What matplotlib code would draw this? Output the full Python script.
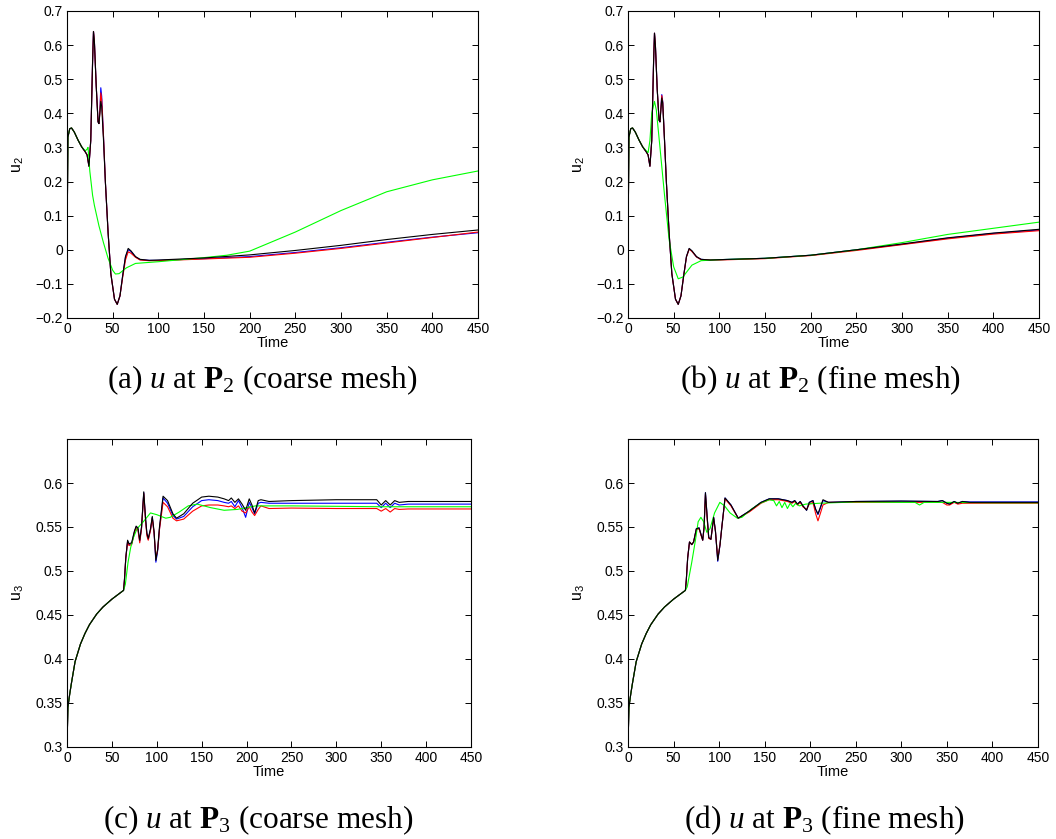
import numpy as np
import matplotlib
matplotlib.use("Agg")
from matplotlib import pyplot as plt
from matplotlib.ticker import FuncFormatter

plt.rcParams['font.family'] = ['Liberation Sans', 'DejaVu Sans']
plt.rcParams['mathtext.fontset'] = 'custom'
plt.rcParams['mathtext.rm'] = 'Liberation Serif'
plt.rcParams['mathtext.it'] = 'Liberation Serif:italic'
plt.rcParams['mathtext.bf'] = 'Liberation Serif:bold'
plt.rcParams['mathtext.sf'] = 'Liberation Sans'

# ---- panel (a): u at P2, coarse mesh ----
t_a = [0, 1, 3, 5, 8, 12, 16, 20, 22, 24, 26, 28, 29, 30, 32, 34, 35, 36, 37, 38, 40, 42, 45, 48,
       52, 55, 58, 61, 64, 67, 70, 75, 80, 90, 100, 150, 200, 250, 300, 350, 400, 450]
a_black = [0.0, 0.33, 0.355, 0.357, 0.345, 0.322, 0.302, 0.287, 0.278, 0.245, 0.32, 0.55, 0.64, 0.61,
           0.48, 0.375, 0.37, 0.40, 0.435, 0.42, 0.32, 0.2, 0.05, -0.07, -0.145, -0.16, -0.135, -0.075,
           -0.02, 0.004, -0.003, -0.02, -0.028, -0.031, -0.03, -0.024, -0.015, -0.002, 0.013, 0.03,
           0.045, 0.058]
a_blue = [0.0, 0.33, 0.355, 0.357, 0.345, 0.322, 0.302, 0.287, 0.278, 0.245, 0.32, 0.55, 0.64, 0.61,
          0.48, 0.375, 0.37, 0.41, 0.475, 0.45, 0.33, 0.2, 0.05, -0.07, -0.145, -0.16, -0.135, -0.075,
          -0.022, 0.0, -0.005, -0.021, -0.029, -0.031, -0.031, -0.026, -0.02, -0.008, 0.006, 0.022,
          0.037, 0.05]
a_red = [0.0, 0.33, 0.355, 0.357, 0.345, 0.322, 0.302, 0.287, 0.278, 0.245, 0.32, 0.55, 0.64, 0.61,
         0.48, 0.375, 0.37, 0.405, 0.46, 0.44, 0.33, 0.2, 0.05, -0.07, -0.145, -0.16, -0.135, -0.08,
         -0.03, -0.006, -0.01, -0.022, -0.03, -0.032, -0.032, -0.027, -0.022, -0.01, 0.004, 0.02,
         0.036, 0.052]
t_a_green = [0, 1, 3, 5, 8, 12, 16, 20, 22, 23, 25, 28, 30, 35, 40, 45, 50, 53, 57, 65, 75, 100, 150,
             175, 200, 250, 300, 350, 400, 450]
a_green = [0.0, 0.33, 0.355, 0.357, 0.345, 0.322, 0.302, 0.29, 0.295, 0.30, 0.23, 0.16, 0.13, 0.07,
           0.02, -0.025, -0.06, -0.071, -0.07, -0.053, -0.04, -0.035, -0.023, -0.016, -0.004, 0.052,
           0.115, 0.17, 0.205, 0.231]

# ---- panel (b): u at P2, fine mesh ----
t_b = t_a
b_black = [0.0, 0.33, 0.355, 0.357, 0.345, 0.322, 0.302, 0.287, 0.278, 0.245, 0.32, 0.55, 0.635, 0.60,
           0.47, 0.38, 0.375, 0.41, 0.445, 0.43, 0.32, 0.2, 0.05, -0.07, -0.145, -0.16, -0.135, -0.075,
           -0.02, 0.004, -0.003, -0.02, -0.028, -0.03, -0.029, -0.025, -0.016, 0.0, 0.017, 0.035,
           0.049, 0.06]
b_blue = [0.0, 0.33, 0.355, 0.357, 0.345, 0.322, 0.302, 0.287, 0.278, 0.245, 0.32, 0.55, 0.635, 0.60,
          0.47, 0.38, 0.375, 0.415, 0.455, 0.435, 0.32, 0.2, 0.05, -0.07, -0.145, -0.16, -0.135, -0.075,
          -0.02, 0.003, -0.004, -0.021, -0.028, -0.03, -0.029, -0.025, -0.016, 0.0, 0.016, 0.034,
          0.048, 0.058]
b_red = [0.0, 0.33, 0.355, 0.357, 0.345, 0.322, 0.302, 0.287, 0.278, 0.245, 0.32, 0.55, 0.635, 0.60,
         0.47, 0.38, 0.375, 0.413, 0.452, 0.433, 0.32, 0.2, 0.05, -0.07, -0.145, -0.16, -0.135, -0.076,
         -0.021, 0.002, -0.005, -0.021, -0.029, -0.03, -0.03, -0.026, -0.017, -0.002, 0.015, 0.032,
         0.046, 0.056]
t_b_green = [0, 1, 3, 5, 8, 12, 16, 20, 22, 24, 26, 29, 31, 35, 40, 45, 50, 55, 60, 70, 80, 100, 150,
             200, 250, 300, 350, 400, 450]
b_green = [0.0, 0.33, 0.355, 0.357, 0.345, 0.322, 0.302, 0.29, 0.285, 0.32, 0.40, 0.435, 0.41, 0.3,
           0.16, 0.03, -0.05, -0.085, -0.08, -0.045, -0.032, -0.029, -0.025, -0.016, 0.0, 0.021,
           0.045, 0.063, 0.081]

# ---- panel (c): u at P3, coarse mesh ----
t_c = [0, 1, 3, 5, 9, 15, 20, 25, 33, 40, 50, 63, 64, 65.5, 67.5, 69, 72, 75, 77, 79, 81, 83, 85.5,
       87.5, 89, 90.5, 93, 95, 97, 99, 101, 103, 107, 112, 118, 122, 130, 140, 150, 158, 168, 175, 180,
       183, 187, 191, 195, 199, 203, 206, 209, 213, 216, 225, 250, 300, 340, 345, 350, 355, 360, 365,
       370, 380, 400, 450]
c_black = [0.30, 0.345, 0.36, 0.373, 0.397, 0.417, 0.429, 0.439, 0.451, 0.459, 0.468, 0.478, 0.49,
           0.515, 0.535, 0.531, 0.532, 0.545, 0.551, 0.549, 0.535, 0.55, 0.59, 0.56, 0.543, 0.537,
           0.548, 0.562, 0.545, 0.512, 0.525, 0.55, 0.585, 0.58, 0.565, 0.56, 0.565, 0.577, 0.584,
           0.585, 0.584, 0.582, 0.58, 0.583, 0.578, 0.582, 0.576, 0.569, 0.582, 0.575, 0.566, 0.58,
           0.581, 0.579, 0.58, 0.581, 0.581, 0.581, 0.575, 0.58, 0.575, 0.58, 0.578, 0.579, 0.579,
           0.579]
c_blue = [0.30, 0.345, 0.36, 0.373, 0.397, 0.417, 0.429, 0.439, 0.451, 0.459, 0.468, 0.478, 0.49,
          0.515, 0.534, 0.53, 0.531, 0.544, 0.55, 0.548, 0.534, 0.549, 0.589, 0.559, 0.542, 0.536,
          0.547, 0.561, 0.543, 0.51, 0.523, 0.548, 0.583, 0.577, 0.563, 0.559, 0.562, 0.573, 0.58,
          0.581, 0.58, 0.578, 0.577, 0.579, 0.573, 0.58, 0.572, 0.561, 0.578, 0.572, 0.565, 0.577,
          0.578, 0.577, 0.577, 0.577, 0.577, 0.577, 0.572, 0.577, 0.572, 0.577, 0.575, 0.576, 0.576,
          0.576]
c_red = [0.30, 0.345, 0.36, 0.373, 0.397, 0.417, 0.429, 0.439, 0.451, 0.459, 0.468, 0.478, 0.49,
         0.515, 0.533, 0.529, 0.53, 0.543, 0.549, 0.547, 0.532, 0.548, 0.588, 0.557, 0.54, 0.535,
         0.546, 0.56, 0.543, 0.515, 0.524, 0.547, 0.578, 0.573, 0.56, 0.557, 0.559, 0.568, 0.574,
         0.575, 0.575, 0.574, 0.573, 0.574, 0.571, 0.574, 0.568, 0.566, 0.573, 0.567, 0.563, 0.57,
         0.574, 0.571, 0.5715, 0.571, 0.571, 0.571, 0.568, 0.571, 0.567, 0.571, 0.57, 0.5705, 0.5705,
         0.5705]
t_c_green = [0, 1, 3, 5, 9, 15, 20, 25, 33, 40, 50, 63, 65, 68, 71, 74, 78, 85, 93, 100, 110, 115, 125,
             135, 145, 160, 175, 190, 210, 250, 300, 350, 400, 450]
c_green = [0.30, 0.345, 0.36, 0.373, 0.397, 0.417, 0.429, 0.439, 0.451, 0.459, 0.468, 0.478, 0.485,
           0.51, 0.527, 0.538, 0.548, 0.556, 0.566, 0.564, 0.56, 0.561, 0.567, 0.574, 0.576, 0.572,
           0.569, 0.57, 0.574, 0.574, 0.5735, 0.573, 0.573, 0.573]

# ---- panel (d): u at P3, fine mesh ----
t_d = [0, 1, 3, 5, 9, 15, 20, 25, 33, 40, 50, 63, 64, 65.5, 67.5, 70, 72, 75, 78, 80, 82, 83.5, 85,
       87, 88.6, 91, 94, 96, 98.5, 101, 103, 106.5, 113, 121, 133, 146, 155, 165, 175, 180, 183, 186,
       189, 192, 196, 199, 203, 206, 208.5, 211, 214, 220, 250, 300, 340, 345, 350, 353, 358, 362,
       367, 375, 400, 450]
d_black = [0.30, 0.345, 0.36, 0.373, 0.397, 0.417, 0.429, 0.439, 0.451, 0.459, 0.468, 0.478, 0.49,
           0.515, 0.533, 0.53, 0.533, 0.548, 0.549, 0.542, 0.535, 0.55, 0.589, 0.56, 0.538, 0.536,
           0.561, 0.545, 0.512, 0.53, 0.55, 0.583, 0.575, 0.56, 0.568, 0.578, 0.582, 0.582, 0.58,
           0.578, 0.58, 0.576, 0.579, 0.574, 0.569, 0.578, 0.58, 0.57, 0.565, 0.572, 0.581, 0.578,
           0.579, 0.5795, 0.579, 0.58, 0.577, 0.576, 0.579, 0.577, 0.579, 0.578, 0.578, 0.578]
d_blue = [0.30, 0.345, 0.36, 0.373, 0.397, 0.417, 0.429, 0.439, 0.451, 0.459, 0.468, 0.478, 0.49,
          0.515, 0.533, 0.53, 0.533, 0.548, 0.549, 0.542, 0.535, 0.55, 0.589, 0.56, 0.538, 0.536,
          0.561, 0.545, 0.511, 0.53, 0.55, 0.583, 0.575, 0.56, 0.568, 0.578, 0.582, 0.582, 0.58,
          0.578, 0.58, 0.576, 0.579, 0.574, 0.569, 0.578, 0.58, 0.57, 0.564, 0.571, 0.58, 0.578,
          0.579, 0.5793, 0.579, 0.58, 0.577, 0.576, 0.579, 0.577, 0.579, 0.5785, 0.5785, 0.5785]
d_red = [0.30, 0.345, 0.36, 0.373, 0.397, 0.417, 0.429, 0.439, 0.451, 0.459, 0.468, 0.478, 0.49,
         0.515, 0.533, 0.53, 0.533, 0.547, 0.548, 0.541, 0.535, 0.549, 0.587, 0.558, 0.537, 0.536,
         0.56, 0.545, 0.514, 0.53, 0.55, 0.582, 0.574, 0.56, 0.567, 0.577, 0.581, 0.581, 0.579,
         0.577, 0.579, 0.575, 0.578, 0.573, 0.57, 0.576, 0.578, 0.565, 0.557, 0.565, 0.575, 0.578,
         0.578, 0.578, 0.578, 0.578, 0.575, 0.575, 0.578, 0.576, 0.577, 0.577, 0.577, 0.577]
t_d_green = [0, 1, 3, 5, 9, 15, 20, 25, 33, 40, 50, 63, 65, 70, 74, 77, 80, 83, 86.5, 90, 95, 100.8,
             106, 112, 120, 125, 135, 145, 155, 160, 163, 166, 169, 172, 175, 178, 181, 184, 188, 195,
             210, 250, 300, 315, 320, 325, 350, 400, 450]
d_green = [0.30, 0.345, 0.36, 0.373, 0.397, 0.417, 0.429, 0.439, 0.451, 0.459, 0.468, 0.478, 0.482,
           0.51, 0.535, 0.556, 0.561, 0.556, 0.544, 0.548, 0.566, 0.578, 0.574, 0.566, 0.56, 0.561,
           0.57, 0.577, 0.581, 0.58, 0.574, 0.579, 0.572, 0.578, 0.571, 0.577, 0.573, 0.577, 0.574,
           0.576, 0.577, 0.5785, 0.578, 0.578, 0.575, 0.578, 0.578, 0.5775, 0.5775]

captions = [r"(a) $u$ at $\mathbf{P}_2$ (coarse mesh)",
            r"(b) $u$ at $\mathbf{P}_2$ (fine mesh)",
            r"(c) $u$ at $\mathbf{P}_3$ (coarse mesh)",
            r"(d) $u$ at $\mathbf{P}_3$ (fine mesh)"]

W, H = 1056, 839
fig = plt.figure(figsize=(W / 100, H / 100), dpi=100)


def px_axes(x0, x1, y0, y1):
    # pixel box (top-left origin) -> figure fraction
    return fig.add_axes([x0 / W, 1 - y1 / H, (x1 - x0) / W, (y1 - y0) / H])


def fmt(v, pos):
    s = "%g" % round(v, 3)
    return s.replace("-", "\u2212")


def style(ax, ylab, ylim, yticks):
    ax.set_xlim(0, 450)
    ax.set_ylim(*ylim)
    ax.set_xticks(np.arange(0, 451, 50))
    ax.set_yticks(yticks)
    ax.yaxis.set_major_formatter(FuncFormatter(fmt))
    ax.tick_params(direction='in', top=True, right=True, length=4, width=0.7,
                   labelsize=10, pad=3)
    for sp in ax.spines.values():
        sp.set_linewidth(0.8)
    ax.set_xlabel("Time", fontsize=10.5, labelpad=0)
    ax.set_ylabel(ylab, fontsize=11.5, labelpad=7)


lw = 0.8
panels = [
    ((67, 478, 11, 318), t_a, a_blue, a_red, t_a_green, a_green, a_black,
     r"u$_\mathsf{2}$", (-0.2, 0.7), np.arange(-0.2, 0.71, 0.1)),
    ((628, 1039, 11, 318), t_b, b_blue, b_red, t_b_green, b_green, b_black,
     r"u$_\mathsf{2}$", (-0.2, 0.7), np.arange(-0.2, 0.71, 0.1)),
    ((67, 471, 439, 747), t_c, c_blue, c_red, t_c_green, c_green, c_black,
     r"u$_\mathsf{3}$", (0.3, 0.65), np.arange(0.3, 0.601, 0.05)),
    ((628, 1038, 439, 747), t_d, d_blue, d_red, t_d_green, d_green, d_black,
     r"u$_\mathsf{3}$", (0.3, 0.65), np.arange(0.3, 0.601, 0.05)),
]

for box, t, ub, ur, tg, ug, uk, ylab, ylim, yt in panels:
    ax = px_axes(*box)
    ax.plot(t, ub, color=(0, 0, 1), lw=lw)
    ax.plot(t, ur, color=(1, 0, 0), lw=lw)
    ax.plot(tg, ug, color=(0, 1, 0), lw=lw)
    ax.plot(t, uk, color=(0, 0, 0), lw=lw)
    style(ax, ylab, ylim, yt)

cap_pos = [(262, 380), (820, 380), (258, 820), (824, 820)]
for (cx, cy), cap in zip(cap_pos, captions):
    fig.text(cx / W, 1 - cy / H, cap, ha='center', va='center', fontsize=22.5,
             family='Liberation Serif')

fig.savefig("out.png", dpi=100)
